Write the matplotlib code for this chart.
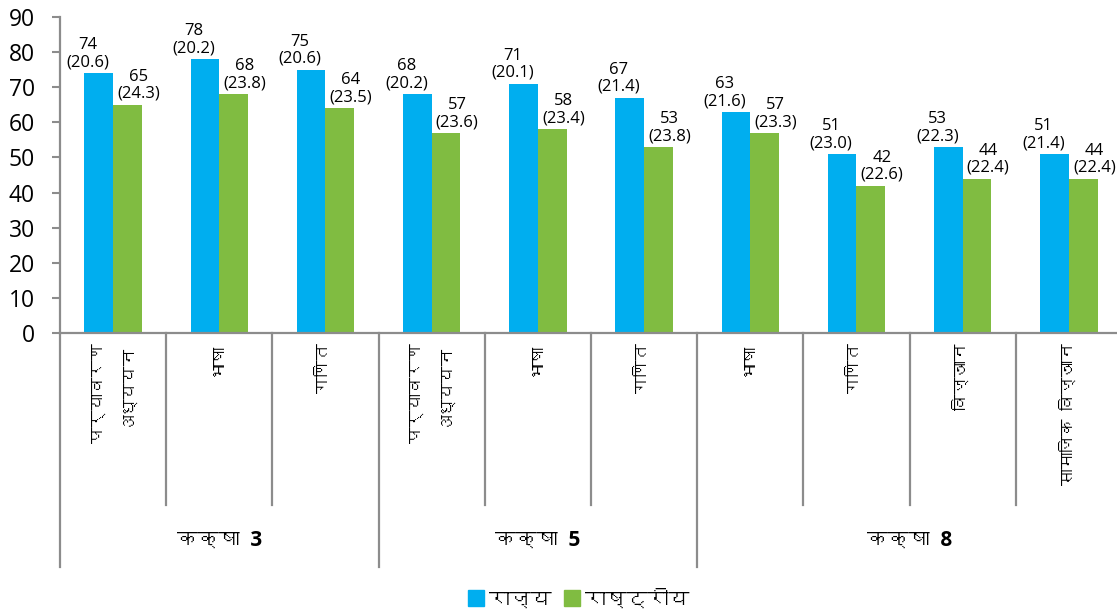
import matplotlib
matplotlib.use("Agg")
import matplotlib.pyplot as plt
from matplotlib import font_manager as fm
from matplotlib.ft2font import FT2Font
from matplotlib.lines import Line2D
from matplotlib.transforms import blended_transform_factory

# data
subjects = ["पर्यावरण\nअध्ययन", "भाषा", "गणित",
            "पर्यावरण\nअध्ययन", "भाषा", "गणित",
            "भाषा", "गणित", "विज्ञान", "सामाजिक  विज्ञान"]
grades = ["कक्षा  3", "कक्षा  5", "कक्षा  8"]
grade_size = [3, 3, 4]
state = [74, 78, 75, 68, 71, 67, 63, 51, 53, 51]
state_sd = [20.6, 20.2, 20.6, 20.2, 20.1, 21.4, 21.6, 23.0, 22.3, 21.4]
national = [65, 68, 64, 57, 58, 53, 57, 42, 44, 44]
national_sd = [24.3, 23.8, 23.5, 23.6, 23.4, 23.8, 23.3, 22.6, 22.4, 22.4]
series_names = ["राज्य", "राष्ट्रीय"]
yticks = list(range(0, 91, 10))

BLUE = "#00AEEF"
GREEN = "#80BC41"
GREY = "#8C8C8C"


def find_font(ch):
    # first installed family that carries the glyph
    for f in fm.fontManager.ttflist:
        try:
            if ord(ch) in FT2Font(f.fname).get_charmap():
                return f.name
        except Exception:
            pass
    return None


deva = find_font("क")
families = ["Open Sans"] + ([deva] if deva else []) + ["DejaVu Sans"]
plt.rcParams["font.family"] = families

W, H = 1117, 615
fig = plt.figure(figsize=(W / 100, H / 100), dpi=100)
ax_left, ax_bot, ax_top = 60 / W, 1 - 333 / H, 1 - 17 / H
ax = fig.add_axes([ax_left, ax_bot, 1 - ax_left, ax_top - ax_bot])

n = len(state)
x = list(range(n))
bw = 0.27
b1 = ax.bar([i - bw / 2 for i in x], state, bw, color=BLUE, zorder=2)
b2 = ax.bar([i + bw / 2 for i in x], national, bw, color=GREEN, zorder=2)

for bars, vals, sds, dx in ((b1, state, state_sd, -8), (b2, national, national_sd, 8)):
    for rect, v, s in zip(bars, vals, sds):
        ax.annotate("%d\n(%.1f)" % (v, s),
                    (rect.get_x() + rect.get_width() / 2, rect.get_height()),
                    xytext=(dx, 2), textcoords="offset points",
                    ha="center", va="bottom", fontsize=12, linespacing=1.1)

ax.set_ylim(0, 90)
ax.set_xlim(-0.5, n - 0.5 - 5 / 106.3)
ax.set_yticks(yticks)
ax.tick_params(axis="y", labelsize=16.5, length=6, width=1.5, color=GREY, pad=12)
ax.set_xticks([])
for side in ("top", "right"):
    ax.spines[side].set_visible(False)
for side in ("left", "bottom"):
    ax.spines[side].set_color(GREY)
    ax.spines[side].set_linewidth(1.6)

# category axis below the plot
tr = blended_transform_factory(ax.transData, fig.transFigure)
y_sub = 1 - 505 / H
y_grp = 1 - 567 / H
bounds = [0]
for g in grade_size:
    bounds.append(bounds[-1] + g)
for i in range(n + 1):
    xb = i - 0.5
    low = y_grp if i in bounds else y_sub
    ax.add_line(Line2D([xb, xb], [ax_bot, low], transform=tr, color=GREY,
                       lw=1.6, clip_on=False))

for i, lab in enumerate(subjects):
    ax.text(i, 1 - 343 / H, lab, transform=tr, rotation=90, ha="center",
            va="top", multialignment="right", fontsize=12, linespacing=1.9)

for g, lab in enumerate(grades):
    c = (bounds[g] + bounds[g + 1] - 1) / 2
    ax.text(c, 1 - 540 / H, lab, transform=tr, ha="center", va="center",
            fontsize=15, fontweight="bold")

handles = [Line2D([], [], ls="none", marker="s", markersize=12, color=BLUE),
           Line2D([], [], ls="none", marker="s", markersize=12, color=GREEN)]
fig.legend(handles, series_names, loc="center", bbox_to_anchor=(0.518, 1 - 600 / H),
           ncol=2, frameon=False, handlelength=0.8, handletextpad=0.2,
           columnspacing=0.6, prop={"size": 15, "weight": "bold"})

fig.savefig("out.png", dpi=100)
